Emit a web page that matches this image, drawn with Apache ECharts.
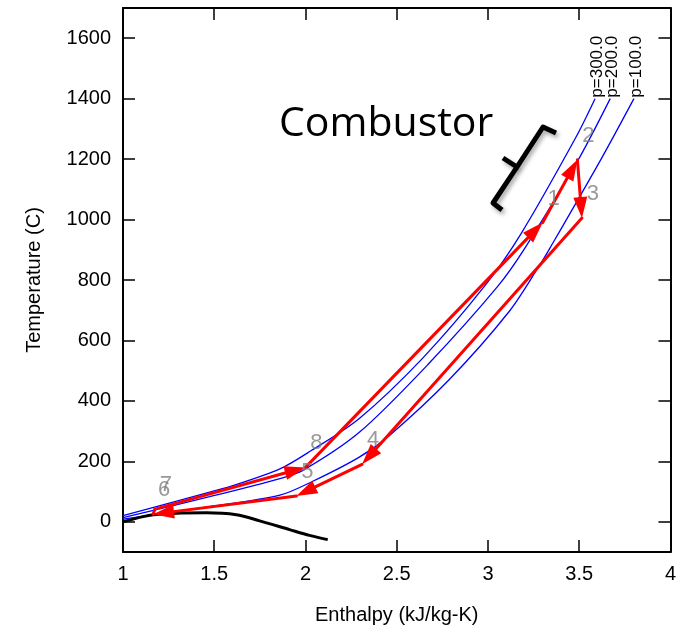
<!DOCTYPE html>
<html>
<head>
<meta charset="utf-8">
<script src="https://cdn.jsdelivr.net/npm/echarts@6/dist/echarts.min.js"></script>
<style>
  html, body { margin: 0; padding: 0; background: #fff; }
  #chart { width: 679px; height: 630px; }
</style>
</head>
<body>
<div id="chart"></div>
<script>
// Isobars, each point is [enthalpy, temperature]
const isobar300 = [[1.0, 20], [1.475, 98], [1.585, 116], [1.86, 175], [2.03, 235], [2.295, 342], [2.64, 540], [2.978, 777], [3.18, 952], [3.479, 1269], [3.587, 1400]];
const isobar200 = [[1.0, 14], [1.475, 83], [1.86, 143], [1.986, 170], [2.295, 296], [2.672, 521], [3.051, 777], [3.205, 908], [3.497, 1200], [3.67, 1400]];
const isobar100 = [[1.0, 9], [1.475, 50], [1.86, 88], [2.04, 134], [2.295, 214], [2.459, 285], [2.787, 470], [3.115, 695], [3.279, 845], [3.342, 908], [3.62, 1200], [3.80, 1400]];
const isobarNames = ['p=300.0', 'p=200.0', 'p=100.0'];

// Saturation dome
const domeCurve = [[1.0, 0], [1.11, 17], [1.166, 23], [1.293, 28.5], [1.457, 29.5], [1.621, 23], [1.749, 3], [1.913, -26], [2.022, -45], [2.122, -59]];

// Cycle states 1..8
const stateNames = ['1', '2', '3', '4', '5', '6', '7', '8'];
const stateH = [3.30, 3.49, 3.515, 2.31, 1.95, 1.165, 1.175, 2.00];
const stateT = [990, 1198, 1005, 190, 85, 25, 42, 180];

// Axis ticks
const yTickValues = [0, 200, 400, 600, 800, 1000, 1200, 1400, 1600];
const xTickStep = 0.5;

const chart = echarts.init(document.getElementById('chart'));

const axisFont = 'Liberation Sans, Arial, sans-serif';
const frameLine = { show: true, onZero: false, lineStyle: { color: '#000', width: 2 } };
const innerTick = { show: true, inside: true, length: 12, lineStyle: { color: '#000', width: 1.5 } };

// Each leg of the cycle runs from one state to the next
const legs = stateNames.map((_, i) => {
  const j = (i + 1) % stateNames.length;
  return [stateH[i], stateT[i], stateH[j], stateT[j]];
});

function renderLeg(params, api) {
  const a = api.coord([api.value(0), api.value(1)]);
  const b = api.coord([api.value(2), api.value(3)]);
  const dx = b[0] - a[0], dy = b[1] - a[1];
  const len = Math.hypot(dx, dy);
  const ux = dx / len, uy = dy / len;
  const headLen = 21, headHalf = 7;
  const hasHead = len > 30;
  const end = hasHead ? [b[0] - ux * headLen * 0.7, b[1] - uy * headLen * 0.7] : b;
  const children = [{
    type: 'polyline',
    shape: { points: [a, end] },
    style: { stroke: '#ff0000', lineWidth: 3, fill: null, lineCap: 'round' }
  }];
  if (hasHead) {
    const bx = b[0] - ux * headLen, by = b[1] - uy * headLen;
    children.push({
      type: 'polygon',
      shape: { points: [b, [bx - uy * headHalf, by + ux * headHalf], [bx + uy * headHalf, by - ux * headHalf]] },
      style: { fill: '#ff0000' }
    });
  }
  return { type: 'group', children };
}

function isobarSeries(data) {
  return {
    type: 'line', data, smooth: 0.3, showSymbol: false, silent: true,
    lineStyle: { color: '#0000ff', width: 1.3 }, z: 2
  };
}

chart.setOption({
  animation: false,
  backgroundColor: '#fff',
  grid: { left: 123, right: 6, top: 8, bottom: 72 },
  xAxis: [{
    type: 'value', min: 1, max: 4, interval: xTickStep,
    name: 'Enthalpy (kJ/kg-K)', nameLocation: 'middle', nameGap: 53,
    nameTextStyle: { fontFamily: axisFont, fontSize: 20, color: '#000' },
    axisLine: frameLine, axisTick: innerTick, splitLine: { show: false },
    axisLabel: { fontFamily: axisFont, fontSize: 20, color: '#000', margin: 12 }
  }, {
    type: 'value', position: 'top', min: 1, max: 4, interval: xTickStep,
    axisLine: frameLine, axisTick: innerTick, splitLine: { show: false },
    axisLabel: { show: false }
  }],
  yAxis: [{
    type: 'value', min: -100, max: 1700,
    name: 'Temperature (C)', nameLocation: 'middle', nameGap: 79,
    nameTextStyle: { fontFamily: axisFont, fontSize: 20, color: '#000' },
    axisLine: frameLine,
    axisTick: Object.assign({ customValues: yTickValues }, innerTick),
    splitLine: { show: false },
    axisLabel: {
      customValues: yTickValues, formatter: v => String(v),
      fontFamily: axisFont, fontSize: 20, color: '#000', margin: 12
    }
  }, {
    type: 'value', position: 'right', min: -100, max: 1700,
    axisLine: frameLine,
    axisTick: Object.assign({ customValues: yTickValues }, innerTick),
    splitLine: { show: false },
    axisLabel: { show: false }
  }],
  series: [
    isobarSeries(isobar300),
    isobarSeries(isobar200),
    isobarSeries(isobar100),
    {
      type: 'line', data: domeCurve, smooth: 0.3, showSymbol: false, silent: true,
      lineStyle: { color: '#000', width: 3 }, z: 3
    },
    {
      type: 'custom', data: legs, renderItem: renderLeg, clip: true,
      encode: { x: [0, 2], y: [1, 3] }, silent: true, z: 4
    },
    {
      type: 'scatter', symbolSize: 0, silent: true, z: 5,
      data: stateNames.map((n, i) => ({ name: n, value: [stateH[i], stateT[i]] })),
      label: {
        show: true, position: 'inside', offset: [11, -24],
        formatter: p => p.name, color: '#808080',
        fontFamily: axisFont, fontSize: 22
      }
    }
  ]
});

// Pressure tags at the top end of each isobar, reading upward
const isobarEnds = [isobar300, isobar200, isobar100].map(c => c[c.length - 1]);
const tags = isobarEnds.map((pt, i) => {
  const px = chart.convertToPixel({ gridIndex: 0 }, pt);
  return {
    type: 'text', x: px[0] + 2, y: px[1] - 1, rotation: Math.PI / 2,
    style: { text: isobarNames[i], fontFamily: axisFont, fontSize: 17, fill: '#000', align: 'left', verticalAlign: 'middle' },
    z: 10
  };
});

chart.setOption({
  graphic: tags.concat([
    {
      type: 'text', x: 279, y: 124,
      style: { text: 'Combustor', fontFamily: 'Open Sans, Lato, sans-serif', fontSize: 41, fill: '#000', align: 'left', verticalAlign: 'middle' },
      z: 10
    },
    {
      type: 'polyline', z: 10,
      shape: { points: [[556, 133], [543, 127], [517, 167], [493, 203], [502, 210]] },
      style: {
        stroke: '#000', lineWidth: 5, fill: null, lineJoin: 'round', lineCap: 'butt',
        shadowBlur: 4, shadowOffsetX: 2, shadowOffsetY: 3, shadowColor: 'rgba(0,0,0,0.35)'
      }
    },
    {
      type: 'polyline', z: 10,
      shape: { points: [[517, 167], [503, 158]] },
      style: {
        stroke: '#000', lineWidth: 5, fill: null, lineCap: 'butt',
        shadowBlur: 4, shadowOffsetX: 2, shadowOffsetY: 3, shadowColor: 'rgba(0,0,0,0.35)'
      }
    }
  ])
});
</script>
</body>
</html>
